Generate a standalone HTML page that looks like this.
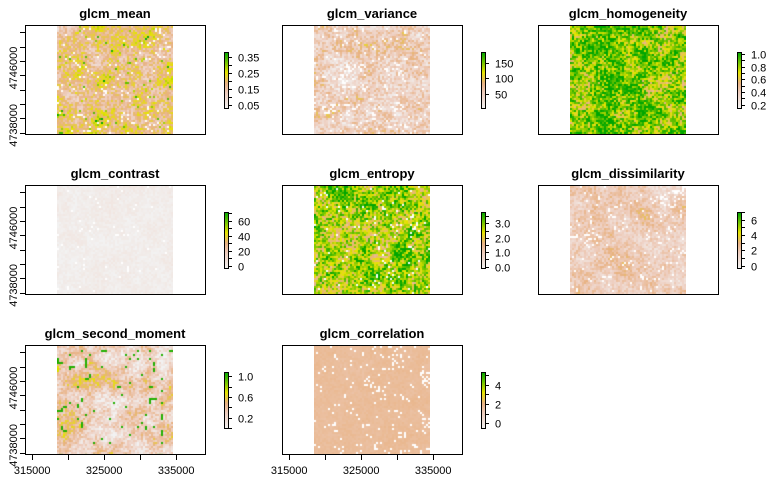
<!DOCTYPE html>
<html><head><meta charset="utf-8">
<style>
html,body{margin:0;padding:0;background:#fff;}
#root{position:relative;width:768px;height:480px;overflow:hidden;font-family:"Liberation Sans",Arial,sans-serif;}
svg{position:absolute;left:0;top:0;z-index:2;}
canvas{position:absolute;z-index:1;}
</style></head>
<body>
<div id="root">
<svg id="svg" width="768" height="480"></svg>
</div>
<script>
// ---- data arrays ----
const panelNames = ["glcm_mean","glcm_variance","glcm_homogeneity","glcm_contrast","glcm_entropy","glcm_dissimilarity","glcm_second_moment","glcm_correlation"];
const legendMin = [0.03, 5, 0.15, -3, -0.1, -0.3, 0.0, -0.5];
const legendMax = [0.38, 185, 1.03, 72, 3.8, 7, 1.08, 5.3];
const legendLabels = [[0.05,0.15,0.25,0.35],[50,100,150],[0.2,0.4,0.6,0.8,1.0],[0,20,40,60],[0.0,1.0,2.0,3.0],[0,2,4,6],[0.2,0.6,1.0],[0,2,4]];
const legendMinorStep = [0.05, 50, 0.1, 10, 0.5, 1, 0.2, 1];
const legendDecimals = [2,0,1,0,1,0,1,0];
// raster value character per panel (base level, fine spread, blob spread, hole fraction)
const rasterBase = [0.44, 0.26, 0.78, 0.04, 0.72, 0.28, 0.28, 0.38];
const rasterFine = [0.22, 0.24, 0.35, 0.05, 0.35, 0.16, 0.22, 0.03];
const rasterBlob = [0.20, 0.16, 0.25, 0.03, 0.25, 0.12, 0.26, 0.02];
const rasterHoles = [0.02, 0.03, 0.0, 0.01, 0.02, 0.03, 0.0, 0.04];
const xTicks = [315000, 320000, 325000, 330000, 335000];
const xTickLabels = [315000, 325000, 335000];
const yTicks = [4737000,4739000,4741000,4743000,4745000,4747000,4749000,4751000];
const yTickLabels = [4738000, 4746000];

// ---- layout ----
const colX = [25, 282, 538], rowY = [25, 185, 345];
const boxW = 180, boxH = 109;
const xDom = [314000, 339000];
const yDom = [4736800, 4752000];
const rasterX0 = 318500, rasterX1 = 334500;
const NS = "http://www.w3.org/2000/svg";
const svg = document.getElementById('svg');
function mk(tag, attrs, parent){const e=document.createElementNS(NS,tag);for(const k in attrs)e.setAttribute(k,attrs[k]);(parent||svg).appendChild(e);return e;}
const stops=[[0,[242,242,242]],[0.28,[238,205,190]],[0.45,[232,178,130]],[0.64,[230,228,0]],[1,[0,166,0]]];
function ramp(t){t=Math.max(0,Math.min(1,t));for(let i=1;i<stops.length;i++){if(t<=stops[i][0]){const a=stops[i-1],b=stops[i];const f=(t-a[0])/(b[0]-a[0]);return a[1].map((v,j)=>Math.round(v+(b[1][j]-v)*f));}}return stops[stops.length-1][1];}
function hash(x,y,s){let h=(x*374761393+y*668265263+s*2147483647)|0;h=(h^(h>>>13))*1274126177|0;h=h^(h>>>16);return ((h>>>0)%100000)/100000;}
function smooth(x,y,s,sc){const gx=x/sc,gy=y/sc,ix=Math.floor(gx),iy=Math.floor(gy),fx=gx-ix,fy=gy-iy;
 const a=hash(ix,iy,s),b=hash(ix+1,iy,s),c=hash(ix,iy+1,s),d=hash(ix+1,iy+1,s);
 return a*(1-fx)*(1-fy)+b*fx*(1-fy)+c*(1-fx)*fy+d*fx*fy;}

panelNames.forEach((name,p)=>{
 const col=p%3,row=Math.floor(p/3);
 const bx=colX[col],by=rowY[row];
 const sx=v=>bx+(v-xDom[0])/(xDom[1]-xDom[0])*boxW;
 const sy=v=>by+boxH-(v-yDom[0])/(yDom[1]-yDom[0])*boxH;
 const g=mk('g',{});
 
 
 const rx0=Math.round(sx(rasterX0)), rx1=Math.round(sx(rasterX1));
 const cv=document.createElement('canvas');
 cv.width=rx1-rx0;cv.height=boxH;cv.style.left=rx0+'px';cv.style.top=(by+1)+'px';
 
 
 document.getElementById('root').appendChild(cv);
 const ctx=cv.getContext('2d');
 const cell=2;
 for(let j=0;j*cell<boxH;j++)for(let i=0;i*cell<cv.width;i++){
   const f=hash(i,j,p+11)-0.5, b=smooth(i,j,p+31,4)-0.5, c=smooth(i,j,p+51,9)-0.5;
   let t=rasterBase[p]+rasterFine[p]*f*1.4+rasterBlob[p]*(b+c)*1.3;
   if(p===6 && smooth(i,j,77,2)>0.9) t=0.95;
   if(p===0 && hash(i,j,91)>0.96) t+=0.3;
   let colr;
   if(hash(i,j,p+71)<rasterHoles[p]*(1+ (smooth(i,j,p+5,5)>0.7?6:0))) colr=[255,255,255]; else colr=ramp(t);
   ctx.fillStyle='rgb('+colr.join(',')+')';
   ctx.fillRect(i*cell,j*cell,cell,cell);
 }
 const box=mk('rect',{x:bx+0.5,y:by+0.5,width:boxW,height:boxH,fill:'none',stroke:'#000','stroke-width':1},g);
 
 
 const tt=mk('text',{x:bx+boxW/2,y:by-7,'text-anchor':'middle','font-size':'13','font-weight':'bold',fill:'#000'},g);
 tt.textContent=name;
 
 
 if(col===0){
   yTicks.forEach(v=>{const y=Math.round(sy(v))+0.5;const l=mk('line',{x1:bx-5,x2:bx,y1:y,y2:y,stroke:'#000'},g);});
   mk('line',{x1:bx+0.5,x2:bx+0.5,y1:sy(yTicks[0]),y2:sy(yTicks[yTicks.length-1]),stroke:'#000'},g);
   yTickLabels.forEach(v=>{const y=sy(v);const t=mk('text',{x:0,y:0,transform:'translate(17,'+y+') rotate(-90)','text-anchor':'middle','font-size':'11',fill:'#000'},g);t.textContent=v;});
 }
 if(row===2){
   xTicks.forEach(v=>{const x=Math.round(sx(v))+0.5;const l=mk('line',{x1:x,x2:x,y1:by+boxH+1,y2:by+boxH+6,stroke:'#000'},g);});
   xTickLabels.forEach(v=>{const t=mk('text',{x:sx(v),y:by+boxH+20,'text-anchor':'middle','font-size':'11',fill:'#000'},g);t.textContent=v;});
 }
 const lx=bx+199, ly0=by+27, lh=56, lw=4;
 const lg=mk('g',{},g);
 
 
 const gid='grad'+p;
 const defs=mk('defs',{},lg);
 const gr=mk('linearGradient',{id:gid,x1:0,y1:1,x2:0,y2:0},defs);
 stops.forEach(s=>mk('stop',{offset:s[0],'stop-color':'rgb('+s[1].join(',')+')'},gr));
 mk('rect',{x:lx+0.5,y:ly0+0.5,width:lw,height:lh,fill:'url(#'+gid+')',stroke:'#000','stroke-width':1},lg);
 const ly=v=>ly0+lh-(v-legendMin[p])/(legendMax[p]-legendMin[p])*lh;
 const st=legendMinorStep[p];
 for(let v=Math.ceil(legendMin[p]/st-1e-9)*st; v<=legendMax[p]+1e-9; v+=st){
   const y=Math.round(ly(v))+0.5;
   const l=mk('line',{x1:lx+lw,x2:lx+lw+4,y1:y,y2:y,stroke:'#000'},lg);
   
   
 }
 legendLabels[p].forEach(v=>{
   const y=Math.round(ly(v))+0.5;
   mk('line',{x1:lx+lw,x2:lx+lw+4,y1:y,y2:y,stroke:'#000'},lg);
   const t=mk('text',{x:lx+14,y:y+4,'font-size':'11',fill:'#000'},lg);
   t.textContent=v.toFixed(legendDecimals[p]);
   
   
 });
});
</script>
</body></html>
